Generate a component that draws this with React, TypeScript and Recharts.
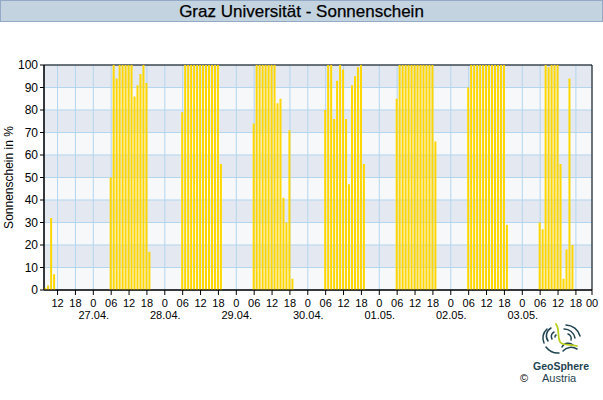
import React from 'react';
import { ComposedChart, Bar, XAxis, YAxis, CartesianGrid, ReferenceArea } from 'recharts';

// Days shown (date label is drawn under the midnight tick of that day)
const dayLabels = ['26.04.', '27.04.', '28.04.', '29.04.', '30.04.', '01.05.', '02.05.', '03.05.'];
// first hour with a value on each day
const startHours = [8, 6, 6, 6, 6, 6, 6, 6];
// hourly sunshine in %
const sun2604 = [1, 2, 32, 7];
const sun2704 = [50, 100, 94, 100, 100, 100, 100, 100, 86, 91, 96, 100, 92, 17];
const sun2804 = [79, 100, 100, 100, 100, 100, 100, 100, 100, 100, 100, 100, 100, 56];
const sun2904 = [74, 100, 100, 100, 100, 100, 100, 100, 83, 85, 41, 30, 71, 5];
const sun3004 = [80, 100, 100, 76, 93, 100, 98, 76, 47, 91, 95, 99, 100, 56];
const sun0105 = [85, 100, 100, 100, 100, 100, 100, 100, 100, 100, 100, 100, 100, 66];
const sun0205 = [90, 100, 100, 100, 100, 100, 100, 100, 100, 100, 100, 100, 100, 29];
const sun0305 = [30, 27, 100, 99, 100, 100, 100, 56, 5, 18, 94, 20];
const dailySun = [sun2604, sun2704, sun2804, sun2904, sun3004, sun0105, sun0205, sun0305];

// time axis: hours relative to 27.04. 00:00
const X_START = -16.55;
const X_END = 167.4;
const yTicks = [0, 10, 20, 30, 40, 50, 60, 70, 80, 90, 100];

const data: { t: number; sun: number }[] = [];
for (let t = -16; t <= 167; t++) data.push({ t, sun: 0 });
dailySun.forEach((vals, d) => {
  vals.forEach((v, i) => {
    const t = (d - 1) * 24 + startHours[d] + i;
    const row = data.find((r) => r.t === t);
    if (row) row.sun = v;
  });
});

const xTicks: number[] = [];
for (let t = -12; t <= 162; t += 6) xTicks.push(t);
xTicks.push(X_END);

const FONT = "'Liberation Sans', Arial, Helvetica, sans-serif";

const hourLabel = (t: number) => {
  if (t === X_END) return '00';
  const h = ((t % 24) + 24) % 24;
  return h === 0 ? '0' : h === 6 ? '06' : String(h);
};

const XTick = (props: any) => {
  const { x, y, payload } = props;
  const t = payload.value as number;
  const h = ((t % 24) + 24) % 24;
  const showDate = t !== X_END && h === 0;
  return (
    <g>
      <text x={x} y={y + 10} textAnchor="middle" fontSize={11} fontFamily={FONT} fill="#000">
        {hourLabel(t)}
      </text>
      {showDate && (
        <text x={x + 0.5} y={y + 21.5} textAnchor="middle" fontSize={11} fontFamily={FONT} fill="#000">
          {dayLabels[t / 24 + 1]}
        </text>
      )}
    </g>
  );
};

const YLabel = (props: any) => {
  const vb = props.viewBox || { x: 0, y: 0, width: 0, height: 0 };
  const cx = vb.x + 8.5;
  const cy = vb.y + vb.height / 2;
  return (
    <text
      x={cx}
      y={cy}
      transform={`rotate(-90 ${cx} ${cy})`}
      textAnchor="middle"
      dominantBaseline="central"
      fontSize={12}
      fontFamily={FONT}
      fill="#000"
    >
      Sonnenschein in %
    </text>
  );
};

const Logo = () => (
  <svg width={50} height={32} viewBox="0 0 50 32" style={{ position: 'absolute', left: 537, top: 323 }}>
    <g fill="none" stroke="#1f4350" strokeWidth={1.5} strokeLinecap="round">
      <path d="M10 6 A12 12 0 0 0 7 20" />
      <path d="M14 5 A9 9 0 0 0 11 18" />
      <path d="M17 9 A5 5 0 0 0 15 16" />
      <path d="M19 12 A2 2 0 0 0 18 14" />
      <path d="M9 24 A15 15 0 0 0 22 30" />
      <path d="M25 24 A7 7 0 0 1 36 22" />
      <path d="M26 28 A11 11 0 0 1 40 26" />
      <path d="M27 6 A11 11 0 0 1 38 15" />
      <path d="M29 2 A15 15 0 0 1 43 13" />
      <path d="M31 11 A5 5 0 0 1 34 17" />
    </g>
    <path d="M19 1 C23 7 20 13 23 19 C26 23 33 21 40 23" fill="none" stroke="#b9cf22" strokeWidth={1.8} strokeLinecap="round" />
  </svg>
);

export default function App() {
  return (
    <div style={{ position: 'absolute', left: 0, top: 0, width: 603, height: 400, background: '#fff', fontFamily: FONT }}>
      <div
        style={{
          position: 'absolute',
          left: 0,
          top: 0,
          width: 601,
          height: 20,
          background: '#c4d3e0',
          border: '1px solid #93aac6',
          textAlign: 'center',
          lineHeight: '21px',
          fontSize: 17,
          fontFamily: FONT,
          color: '#000',
          WebkitTextStroke: '0.25px #000',
        }}
      >
        Graz Universität - Sonnenschein
      </div>
      <ComposedChart
        width={603}
        height={400}
        data={data}
        margin={{ top: 65, right: 11, bottom: 80, left: 0 }}
        style={{ position: 'absolute', left: 0, top: 0 }}
      >
        <CartesianGrid
          stroke="#b3d5ee"
          strokeWidth={1}
          horizontalFill={['#e4e9f1', '#f6f8fa']}
          fillOpacity={1}
        />
        <XAxis
          dataKey="t"
          type="number"
          domain={[X_START, X_END]}
          ticks={xTicks}
          interval={0}
          allowDataOverflow
          height={30}
          tickSize={5}
          tickLine={{ stroke: '#000' }}
          axisLine={{ stroke: '#000' }}
          tick={<XTick />}
        />
        <YAxis
          type="number"
          domain={[0, 100]}
          ticks={yTicks}
          interval={0}
          width={44}
          tickSize={4}
          tickMargin={2}
          tickLine={{ stroke: '#000' }}
          axisLine={{ stroke: '#000' }}
          tick={{ fontSize: 12, fill: '#000', fontFamily: FONT }}
          label={<YLabel />}
        />
        <ReferenceArea
          x1={X_START}
          x2={X_END}
          y1={0}
          y2={100}
          fill="none"
          stroke="#000"
          strokeWidth={1}
          ifOverflow="visible"
        />
        <Bar dataKey="sun" fill="#ffd700" barSize={2} isAnimationActive={false} />
      </ComposedChart>
      <Logo />
      <div style={{ position: 'absolute', left: 533, top: 360, fontSize: 10.5, lineHeight: '12px', fontWeight: 700, color: '#1f4350', whiteSpace: 'nowrap' }}>
        GeoSphere
      </div>
      <div style={{ position: 'absolute', left: 542, top: 372, fontSize: 11, lineHeight: '12px', color: '#1f4350', whiteSpace: 'nowrap' }}>
        Austria
      </div>
      <div style={{ position: 'absolute', left: 520, top: 372, fontSize: 11, lineHeight: '12px', color: '#000' }}>©</div>
    </div>
  );
}
